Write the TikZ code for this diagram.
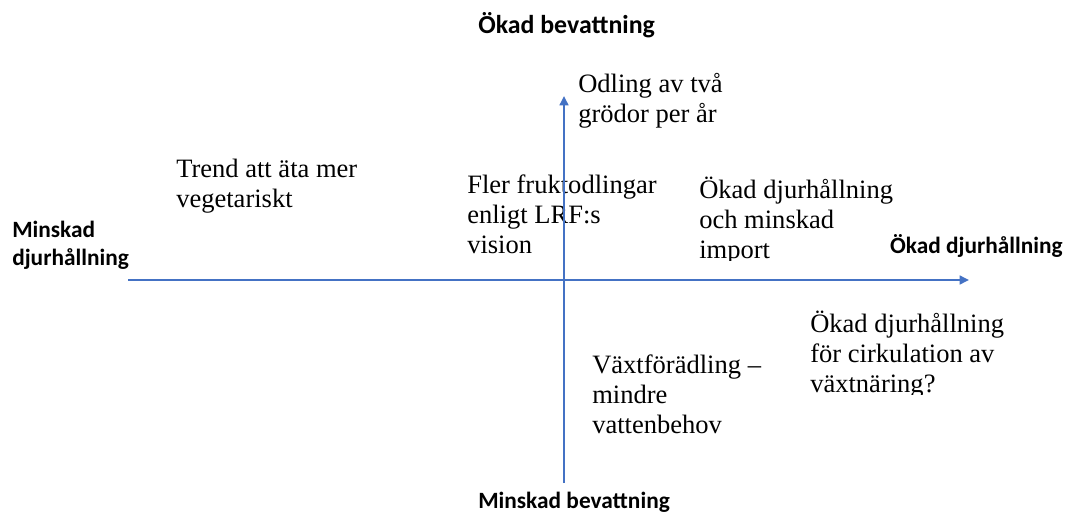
\documentclass[tikz,border=0pt]{standalone}
\usepackage{fontspec}
\setmainfont{Liberation Serif}
\newfontfamily\lblfont{Carlito}
\usetikzlibrary{arrows.meta}
\definecolor{axisblue}{HTML}{4472C4}
\begin{document}
\begin{tikzpicture}[x=0.75pt,y=-0.75pt,
  axis/.style={draw=axisblue,line width=1.8pt,-{Triangle[length=7pt,width=6.5pt]}},
  idea/.style={anchor=base west,inner sep=0pt,align=left,font=\fontsize{19.9}{22.5}\selectfont},
  pole/.style={inner sep=0pt,align=left,font=\lblfont\bfseries\fontsize{17.5}{21}\selectfont}]
\useasboundingbox (0,0) rectangle (1066,514);
% pole labels (anchored at the baseline of the last line)
\node[pole,anchor=base west,font=\lblfont\bfseries\fontsize{19.4}{21}\selectfont] (top) at (478,33) {Ökad bevattning};
\node[pole,anchor=base west] (bottom) at (478,508) {Minskad bevattning};
\node[pole,anchor=base east] (right) at (1063,253) {Ökad djurhållning};
\node[pole,anchor=base west] (left) at (12,265) {Minskad\\djurhållning};
% ideas (anchored at the baseline of the last line)
\node[idea] (odling) at (578,122) {Odling av två\\grödor per år};
\node[idea] (trend) at (176,207) {Trend att äta mer\\vegetariskt};
\begin{scope}
  \clip (440,140) rectangle (690,258);
  \node[idea] (frukt) at (467,253) {Fler fruktodlingar\\enligt LRF:s\\vision};
\end{scope}
\begin{scope}
  \clip (690,140) rectangle (900,260);
  \node[idea] (import) at (699,258) {Ökad djurhållning\\och minskad\\import};
\end{scope}
\node[idea] (vaxt) at (592,433) {Växtförädling –\\mindre\\vattenbehov};
\begin{scope}
  \clip (800,300) rectangle (1066,394);
  \node[idea] (cirk) at (810,392) {Ökad djurhållning\\för cirkulation av\\växtnäring?};
\end{scope}
% axes
\coordinate (xl) at (128,280);
\coordinate (xr) at (969,280);
\coordinate (yb) at (564,483);
\coordinate (yt) at (564,96);
\draw[axis] (xl) -- (xr);
\draw[axis] (yb) -- (yt);
\end{tikzpicture}
\end{document}
